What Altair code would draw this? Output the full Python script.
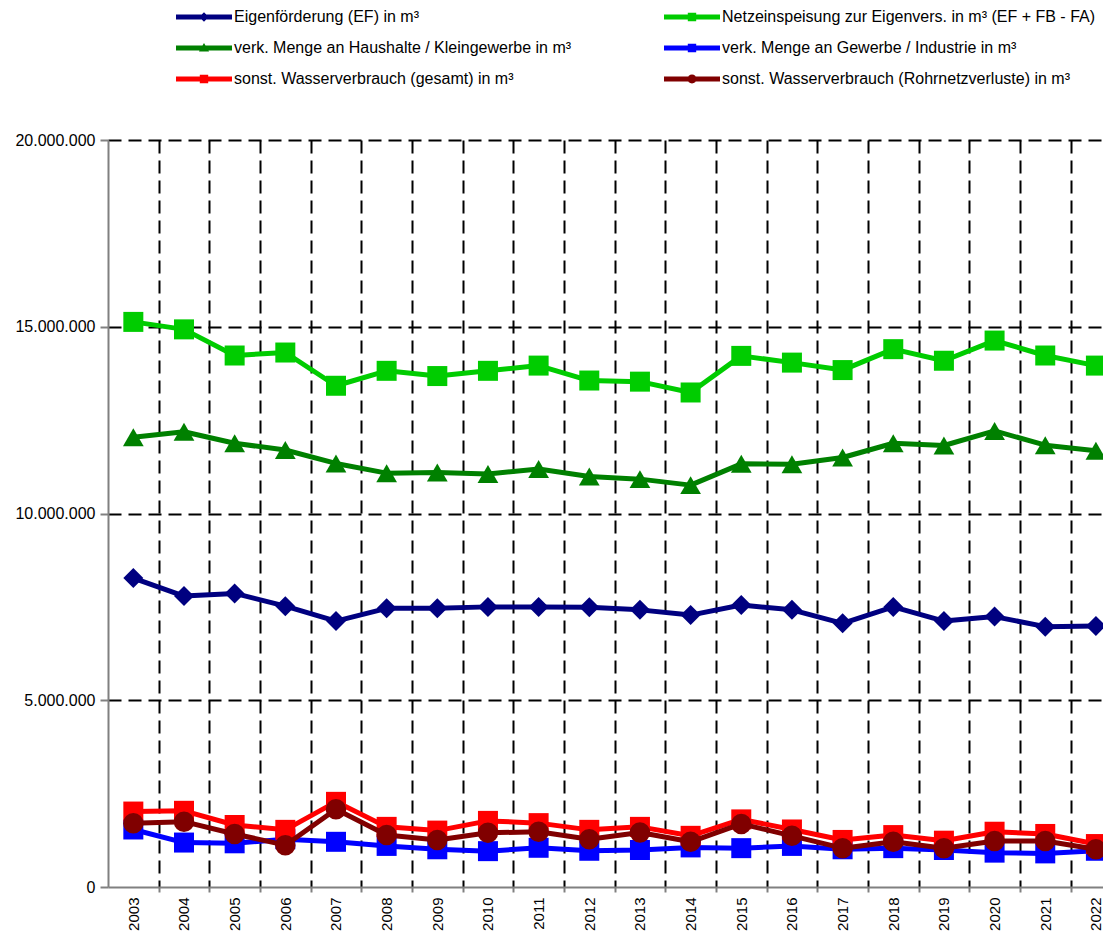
import altair as alt
import pandas as pd

years = list(range(2003, 2023))

series_names = [
    "Eigenförderung (EF) in m³",
    "Netzeinspeisung zur Eigenvers. in m³ (EF + FB - FA)",
    "verk. Menge an Haushalte / Kleingewerbe in m³",
    "verk. Menge an Gewerbe / Industrie in m³",
    "sonst. Wasserverbrauch (gesamt) in m³",
    "sonst. Wasserverbrauch (Rohrnetzverluste) in m³",
]
colors = ["#000080", "#00CC00", "#008000", "#0000FF", "#FF0000", "#800000"]
markers = ["diamond", "square", "triangle-up", "square", "square", "circle"]
marker_sizes = [400, 400, 430, 400, 400, 420]

LINE = "M-1,-0.36L7,-0.36L7,0.36L-1,0.36Z "
legend_paths = [
    LINE + "M3,-0.68L3.68,0L3,0.68L2.32,0Z",
    LINE + "M2.4,-0.6L3.6,-0.6L3.6,0.6L2.4,0.6Z",
    LINE + "M3,-0.72L3.72,0.5L2.28,0.5Z",
    LINE + "M2.4,-0.6L3.6,-0.6L3.6,0.6L2.4,0.6Z",
    LINE + "M2.4,-0.6L3.6,-0.6L3.6,0.6L2.4,0.6Z",
    LINE + "M2.36,0A0.64,0.64 0 1,1 3.64,0A0.64,0.64 0 1,1 2.36,0Z",
]
# legend is filled column by column (3 rows): left column, then right column
legend_order = [0, 2, 4, 1, 3, 5]

eigenfoerderung = [8270000, 7790000, 7860000, 7520000, 7120000, 7460000, 7460000, 7500000, 7500000, 7490000,
                   7420000, 7280000, 7550000, 7420000, 7060000, 7500000, 7120000, 7240000, 6970000, 6990000]
netzeinspeisung = [15130000, 14930000, 14230000, 14310000, 13420000, 13820000, 13680000, 13820000, 13960000, 13560000,
                   13530000, 13240000, 14220000, 14040000, 13840000, 14400000, 14090000, 14630000, 14230000, 13960000]
haushalte = [12040000, 12190000, 11880000, 11700000, 11340000, 11080000, 11100000, 11060000, 11190000, 10990000,
             10920000, 10760000, 11330000, 11320000, 11500000, 11880000, 11820000, 12210000, 11830000, 11680000]
gewerbe = [1540000, 1190000, 1170000, 1280000, 1210000, 1100000, 1010000, 960000, 1050000, 970000,
           990000, 1060000, 1040000, 1100000, 1010000, 1040000, 990000, 920000, 900000, 970000]
sonst_gesamt = [2020000, 2040000, 1660000, 1530000, 2280000, 1610000, 1510000, 1770000, 1710000, 1530000,
                1610000, 1370000, 1810000, 1540000, 1260000, 1390000, 1240000, 1480000, 1420000, 1150000]
rohrnetz = [1710000, 1750000, 1420000, 1120000, 2080000, 1390000, 1260000, 1450000, 1480000, 1280000,
            1460000, 1210000, 1690000, 1370000, 1040000, 1210000, 1040000, 1230000, 1230000, 1010000]

all_values = [eigenfoerderung, netzeinspeisung, haushalte, gewerbe, sonst_gesamt, rohrnetz]
y_ticks = [0, 5000000, 10000000, 15000000, 20000000]

rows = []
for name, vals in zip(series_names, all_values):
    for yr, v in zip(years, vals):
        rows.append({"Jahr": yr, "Serie": name, "Wert": v})
df = pd.DataFrame(rows)

boundaries = [yr + 0.5 for yr in years[:-1]]

FONT = "Liberation Sans"
xscale = alt.Scale(domain=[2002.5, 2022.14], nice=False, zero=False)
yscale = alt.Scale(domain=[0, 20000000], nice=False, zero=True)

label_axis = alt.Axis(values=years, format="d", labelAngle=-90, labelFont=FONT, labelFontSize=15,
                      labelColor="black", labelPadding=10, ticks=False, grid=False, domain=True,
                      domainColor="#808080", domainWidth=2, orient="bottom", title=None,
                      labelOverlap=False, labelBound=False, labelFlush=False)
bound_axis = alt.Axis(values=boundaries, labels=False, ticks=True, tickColor="#808080", tickSize=5,
                      tickWidth=2, grid=True, gridColor="black", gridDash=[13, 7], gridWidth=2,
                      domain=False, orient="bottom", title=None)
y_axis = alt.Axis(values=y_ticks, labelExpr="join(split(format(datum.value, ','), ','), '.')",
                  labelFont=FONT, labelFontSize=16, labelColor="black", labelPadding=5,
                  tickColor="#808080", tickSize=8, tickWidth=2, domainColor="#808080", domainWidth=2,
                  grid=True, gridColor="black", gridDash=[13, 7], gridWidth=2,
                  gridOpacity={"condition": {"test": "datum.value === 0", "value": 0}, "value": 1},
                  title=None, orient="left")

leg = alt.Legend(orient="none", legendX=67, legendY=-131, columns=2, title=None,
                 labelFont=FONT, labelFontSize=16, labelColor="black", symbolSize=196,
                 labelOffset=43, columnPadding=91, rowPadding=15, padding=0,
                 symbolStrokeWidth=0, symbolOpacity=1, labelLimit=0)

leg_domain = [series_names[k] for k in legend_order]
leg_colors = [colors[k] for k in legend_order]
leg_paths = [legend_paths[k] for k in legend_order]

legend_layer = alt.Chart(df).transform_filter("false").mark_point(
    filled=True, opacity=1, strokeWidth=0
).encode(
    x=alt.X("Jahr:Q", scale=xscale, axis=None),
    y=alt.Y("Wert:Q", scale=yscale, axis=y_axis),
    color=alt.Color("Serie:N", scale=alt.Scale(domain=leg_domain, range=leg_colors), legend=leg),
    shape=alt.Shape("Serie:N", scale=alt.Scale(domain=leg_domain, range=leg_paths), legend=leg),
)

layers = []
for i, (name, col, shp, msz) in enumerate(zip(series_names, colors, markers, marker_sizes)):
    base = alt.Chart(df).transform_filter(alt.datum.Serie == name)
    line = base.mark_line(color=col, strokeWidth=5, strokeJoin="round").encode(
        x=alt.X("Jahr:Q", scale=xscale, axis=label_axis if i == 0 else None),
        y=alt.Y("Wert:Q", scale=yscale, axis=y_axis),
    )
    pts = base.mark_point(shape=shp, filled=True, size=msz, opacity=1, color=col, strokeWidth=0).encode(
        x=alt.X("Jahr:Q", scale=xscale, axis=bound_axis if i == 0 else None),
        y=alt.Y("Wert:Q", scale=yscale, axis=y_axis),
    )
    layers += [line, pts]
layers.append(legend_layer)

chart = alt.layer(*layers).resolve_axis(x="independent").properties(
    width=995, height=747,
    autosize=alt.AutoSizeParams(type="none"),
    padding={"left": 100, "top": 132, "right": 0, "bottom": 46},
    background="white",
).configure_view(stroke=None)

chart.save("out.html", embed_options={"renderer": "svg", "actions": False})
